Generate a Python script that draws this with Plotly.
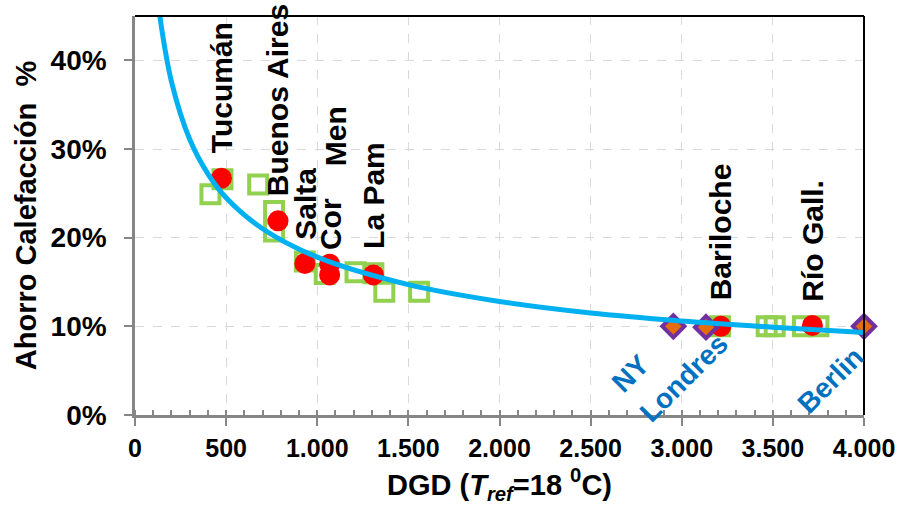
import plotly.graph_objects as go

# ---- data ----
# Green open squares (individual estimates)
sq_x = [414, 480, 676, 763, 763, 932, 1041, 1210, 1308, 1368, 1559, 3210, 3466, 3510, 3665, 3750]
sq_y = [0.249, 0.266, 0.260, 0.230, 0.207, 0.173, 0.159, 0.161, 0.160, 0.139, 0.139, 0.100, 0.100, 0.100, 0.100, 0.100]

# Red circles (Argentine cities)
city_names = ["Tucumán", "Buenos Aires", "Salta", "Cor", "Men", "La Pam", "Bariloche", "Río Gall."]
city_x = [474, 785, 932, 1068, 1068, 1308, 3215, 3717]
city_y = [0.267, 0.219, 0.171, 0.158, 0.170, 0.158, 0.100, 0.101]

# Purple diamonds (foreign cities)
foreign_names = ["NY", "Londres", "Berlin"]
foreign_x = [2954, 3133, 4000]
foreign_y = [0.100, 0.099, 0.100]

# Trend curve points
trend_x = [136, 200, 300, 400, 500, 700, 1000, 1500, 2000, 2500, 3000, 3500, 4000]
trend_y = [0.450, 0.376, 0.311, 0.272, 0.245, 0.210, 0.178, 0.147, 0.128, 0.115, 0.106, 0.099, 0.093]

x_ticks = [0, 500, 1000, 1500, 2000, 2500, 3000, 3500, 4000]
y_ticks = [0, 0.1, 0.2, 0.3, 0.4]

# label text positions (centre of rotated text)
city_label_x = [474, 779, 937, 1074, 1101, 1308, 3210, 3717]
city_label_y = [0.369, 0.355, 0.238, 0.215, 0.314, 0.2475, 0.206, 0.197]
foreign_label_x = [2719, 3010, 3815]
foreign_label_y = [0.047, 0.041, 0.039]

FONT = "Liberation Sans, Arial, sans-serif"
GRAY = "#868686"

fig = go.Figure()
fig.add_trace(go.Scatter(x=sq_x, y=sq_y, mode="markers", cliponaxis=False,
                         marker=dict(symbol="square-open", size=18, color="#92D050",
                                     line=dict(width=4, color="#92D050"))))
fig.add_trace(go.Scatter(x=city_x, y=city_y, mode="markers", cliponaxis=False,
                         marker=dict(symbol="circle", size=21, color="#FF0000",
                                     line=dict(width=0))))
fig.add_trace(go.Scatter(x=foreign_x, y=foreign_y, mode="markers", cliponaxis=False,
                         marker=dict(symbol="diamond", size=17, color="#E46C0A",
                                     line=dict(width=4, color="#7030A0"))))
fig.add_trace(go.Scatter(x=trend_x, y=trend_y, mode="lines", line_shape="spline",
                         line=dict(color="#00B0F0", width=5)))

annotations = []
for name, lx, ly in zip(city_names, city_label_x, city_label_y):
    annotations.append(dict(x=lx, y=ly, xref="x", yref="y", text=name, showarrow=False,
                            textangle=-90, xanchor="center", yanchor="middle",
                            font=dict(family=FONT, size=30, color="black", weight="bold")))
for name, lx, ly in zip(foreign_names, foreign_label_x, foreign_label_y):
    annotations.append(dict(x=lx, y=ly, xref="x", yref="y", text=name, showarrow=False,
                            textangle=-45, xanchor="center", yanchor="middle",
                            font=dict(family=FONT, size=28, color="#0070C0", weight="bold")))

fig.update_layout(
    width=907, height=508,
    margin=dict(l=135, r=38, t=16, b=93),
    paper_bgcolor="white", plot_bgcolor="white",
    showlegend=False,
    separators=",.",
    font=dict(family=FONT, color="black"),
    annotations=annotations,
    shapes=[
        dict(type="line", xref="paper", yref="paper", x0=0, x1=1, y0=1, y1=1,
             line=dict(color="black", width=2)),
        dict(type="line", xref="paper", yref="paper", x0=1, x1=1, y0=0, y1=1,
             line=dict(color="black", width=2)),
    ],
)

fig.update_xaxes(
    range=[0, 4000], tickvals=x_ticks, tickformat=",.0f",
    showline=True, linecolor=GRAY, linewidth=2.5,
    ticks="outside", ticklen=8, tickwidth=2, tickcolor=GRAY,
    minor=dict(dtick=100, ticks="inside", ticklen=5, tickwidth=1.5, tickcolor=GRAY, showgrid=False),
    showgrid=True, gridcolor="#D9D9D9", griddash="dash", gridwidth=1,
    zeroline=False,
    tickfont=dict(family=FONT, size=25, color="black", weight="bold"),
    ticklabelstandoff=1,
    title=dict(text="DGD (<i>T</i><sub><i>ref</i></sub>=18 <sup>0</sup>C)",
               font=dict(family=FONT, size=29, color="black", weight="bold"), standoff=14),
)
fig.update_yaxes(
    range=[0, 0.45], tickvals=y_ticks, tickformat=".0%",
    showline=True, linecolor=GRAY, linewidth=2.5,
    ticks="outside", ticklen=8, tickwidth=2, tickcolor=GRAY,
    showgrid=True, gridcolor="#D9D9D9", griddash="dash", gridwidth=1,
    zeroline=False,
    tickfont=dict(family=FONT, size=28, color="black", weight="bold"),
    ticklabelstandoff=12,
    title=dict(text="Ahorro Calefacción\u00a0\u00a0%",
               font=dict(family=FONT, size=29, color="black", weight="bold"), standoff=6),
)

fig.write_html("out.html")
